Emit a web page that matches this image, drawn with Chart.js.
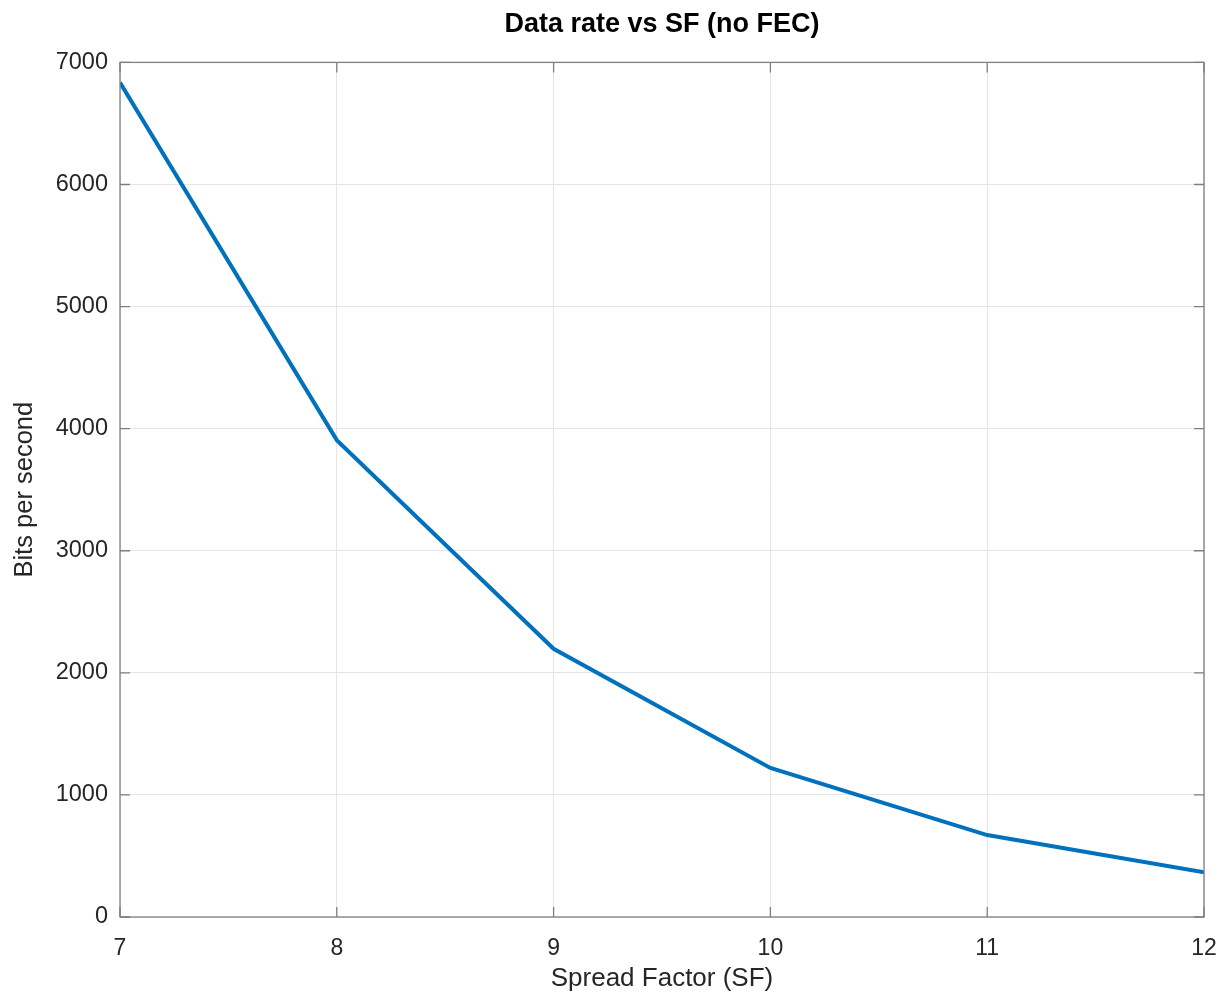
<!DOCTYPE html>
<html>
<head>
<meta charset="utf-8">
<script src="https://cdn.jsdelivr.net/npm/chart.js@4.4.1/dist/chart.umd.min.js"></script>
<style>
  html, body { margin: 0; padding: 0; background: #fff; }
  #wrap { width: 1227px; height: 997px; }
</style>
</head>
<body>
<div id="wrap"><canvas id="chart" width="1227" height="997"></canvas></div>
<script>
const spreadFactors = [7, 8, 9, 10, 11, 12];
const bitRates = [6835, 3906, 2197, 1221, 671, 366];

const xTicks = [7, 8, 9, 10, 11, 12];
const yTicks = [0, 1000, 2000, 3000, 4000, 5000, 6000, 7000];

const FONT = "'Liberation Sans', Arial, Helvetica, sans-serif";

// octave-style box with inward tick marks on all four sides
const boxTicks = {
  id: "boxTicks",
  afterDraw(chart) {
    const { ctx, chartArea: a, scales } = chart;
    const len = 10;
    ctx.save();
    ctx.strokeStyle = "#7f7f7f";
    ctx.lineWidth = 1.3;
    ctx.strokeRect(a.left, a.top, a.right - a.left, a.bottom - a.top);
    ctx.beginPath();
    xTicks.forEach(v => {
      const px = scales.x.getPixelForValue(v);
      ctx.moveTo(px, a.bottom); ctx.lineTo(px, a.bottom - len);
      ctx.moveTo(px, a.top); ctx.lineTo(px, a.top + len);
    });
    yTicks.forEach(v => {
      const py = scales.y.getPixelForValue(v);
      ctx.moveTo(a.left, py); ctx.lineTo(a.left + len, py);
      ctx.moveTo(a.right, py); ctx.lineTo(a.right - len, py);
    });
    ctx.stroke();
    ctx.restore();
  }
};

new Chart(document.getElementById("chart"), {
  type: "line",
  data: {
    datasets: [{
      data: spreadFactors.map((sf, i) => ({ x: sf, y: bitRates[i] })),
      borderColor: "#0072BD",
      borderWidth: 4,
      pointRadius: 0,
      tension: 0,
      fill: false
    }]
  },
  options: {
    responsive: false,
    animation: false,
    layout: { padding: { left: 0, right: 23, top: 0, bottom: 0 } },
    plugins: {
      legend: { display: false },
      tooltip: { enabled: false },
      title: {
        display: true,
        text: "Data rate vs SF (no FEC)",
        fullSize: false,
        color: "#000",
        font: { family: FONT, size: 27, weight: "bold" },
        padding: { top: 8, bottom: 22 }
      }
    },
    scales: {
      x: {
        type: "linear",
        min: 7,
        max: 12,
        afterBuildTicks: s => { s.ticks = xTicks.map(v => ({ value: v })); },
        afterFit: s => { s.height = 80; s.paddingLeft = 0; s.paddingRight = 0; },
        grid: { color: "#e5e5e5", lineWidth: 1, drawTicks: false },
        border: { display: false },
        ticks: {
          color: "#262626",
          font: { family: FONT, size: 23 },
          padding: 18,
          maxRotation: 0
        },
        title: {
          display: true,
          text: "Spread Factor (SF)",
          color: "#262626",
          font: { family: FONT, size: 26 },
          padding: { top: 0, bottom: 3 }
        }
      },
      y: {
        min: 0,
        max: 7000,
        afterBuildTicks: s => { s.ticks = yTicks.map(v => ({ value: v })); },
        afterFit: s => { s.width = 120; },
        grid: { color: "#e5e5e5", lineWidth: 1, drawTicks: false },
        border: { display: false },
        ticks: {
          color: "#262626",
          font: { family: FONT, size: 23.5 },
          padding: 12,
          callback: v => String(v)
        },
        title: {
          display: true,
          text: "Bits per second",
          color: "#262626",
          font: { family: FONT, size: 25.5 },
          padding: { top: 10, bottom: 4 }
        }
      }
    }
  },
  plugins: [boxTicks]
});
</script>
</body>
</html>
